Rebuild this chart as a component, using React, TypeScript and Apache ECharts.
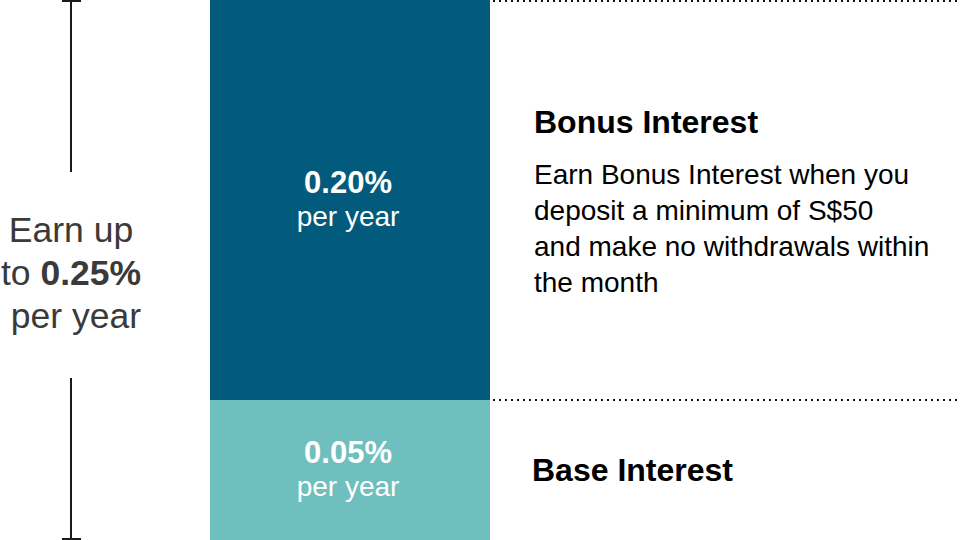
import React, { useEffect, useRef } from "react";
import * as echarts from "echarts";

// ---- data ----
const categories = ["Account"];
const segmentNames = ["Base Interest", "Bonus Interest"];
const segmentRates = [0.05, 0.2]; // % per year
const segmentColors = ["#6ebfbe", "#025b7c"];
const totalRate = 0.25;
const bonusDescription = [
  "Earn Bonus Interest when you",
  "deposit a minimum of S$50",
  "and make no withdrawals within",
  "the month",
];

const FONT = "'Liberation Sans', Arial, Helvetica, sans-serif";

export default function App() {
  const ref = useRef<HTMLDivElement>(null);

  useEffect(() => {
    if (!ref.current) return;
    const chart = echarts.init(ref.current, undefined, { renderer: "svg" });

    // cumulative stack
    let acc = 0;
    const stackData = segmentRates.map((v, i) => {
      const start = acc;
      acc += v;
      return [0, start, acc, i];
    });

    const renderItem = (params: any, api: any) => {
      const i = api.value(3);
      const start = api.value(1);
      const end = api.value(2);
      const cs = params.coordSys;
      const bandW = api.size([1, 0])[0];
      const cx = api.coord([api.value(0), end])[0];
      const yTop = api.coord([0, end])[1];
      const yBottom = i === 0 ? cs.y + cs.height : api.coord([0, start])[1];
      const x0 = cx - bandW / 2;
      const x1 = cx + bandW / 2;
      const midY = (yTop + yBottom) / 2;
      const rate = segmentRates[i];
      const lineY = i === segmentRates.length - 1 ? yTop + 1 : yTop;
      return {
        type: "group",
        children: [
          {
            type: "rect",
            shape: { x: x0, y: yTop, width: x1 - x0, height: yBottom - yTop },
            style: { fill: segmentColors[i] },
          },
          {
            type: "text",
            style: {
              x: cx - 2,
              y: midY,
              text: `{a|${rate.toFixed(2)}%}\n{b|per year}`,
              align: "center",
              verticalAlign: "middle",
              fill: "#ffffff",
              fontFamily: FONT,
              rich: {
                a: { fontSize: 31, fontWeight: "bold", lineHeight: 32, fill: "#ffffff", fontFamily: FONT },
                b: { fontSize: 28, lineHeight: 36, fill: "#ffffff", fontFamily: FONT },
              },
            },
          },
          {
            type: "line",
            shape: { x1: x1 + 3, y1: lineY, x2: api.getWidth(), y2: lineY },
            style: { stroke: "#111111", lineWidth: 2, lineDash: [2, 4] },
          },
        ],
      };
    };

    const option: any = {
      animation: false,
      backgroundColor: "#ffffff",
      grid: { left: 210, width: 280, top: 0, height: 540 },
      xAxis: {
        type: "category",
        data: categories,
        show: false,
      },
      yAxis: {
        type: "value",
        min: -0.02,
        max: totalRate,
        show: false,
      },
      series: [
        {
          type: "custom",
          name: segmentNames.join(" / "),
          clip: false,
          renderItem,
          data: stackData,
        },
      ],
      graphic: [
        // bracket
        { type: "rect", shape: { x: 62, y: 0, width: 19, height: 2 }, style: { fill: "#1a1a1a" } },
        { type: "rect", shape: { x: 70, y: 0, width: 2, height: 172 }, style: { fill: "#1a1a1a" } },
        { type: "rect", shape: { x: 70, y: 378, width: 2, height: 162 }, style: { fill: "#1a1a1a" } },
        { type: "rect", shape: { x: 62, y: 538, width: 19, height: 2 }, style: { fill: "#1a1a1a" } },
        {
          type: "text",
          x: 71,
          y: 273,
          style: {
            text: `Earn up\nto {b|${totalRate.toFixed(2)}%}\n per year`,
            align: "center",
            verticalAlign: "middle",
            fill: "#3a3a3a",
            fontSize: 35.5,
            lineHeight: 43,
            fontFamily: FONT,
            rich: {
              b: { fontSize: 35.5, fontWeight: "bold", lineHeight: 43, fill: "#3a3a3a", fontFamily: FONT },
            },
          },
        },
        {
          type: "text",
          x: 534,
          y: 122,
          style: {
            text: segmentNames[1],
            align: "left",
            verticalAlign: "middle",
            fill: "#000000",
            fontSize: 32,
            fontWeight: "bold",
            fontFamily: FONT,
          },
        },
        {
          type: "text",
          x: 534,
          y: 228,
          style: {
            text: bonusDescription.join("\n"),
            align: "left",
            verticalAlign: "middle",
            fill: "#000000",
            fontSize: 28,
            lineHeight: 36,
            fontFamily: FONT,
          },
        },
        {
          type: "text",
          x: 532,
          y: 470,
          style: {
            text: segmentNames[0],
            align: "left",
            verticalAlign: "middle",
            fill: "#000000",
            fontSize: 32,
            fontWeight: "bold",
            fontFamily: FONT,
          },
        },
      ],
    };

    chart.setOption(option);
    return () => chart.dispose();
  }, []);

  return (
    <div
      ref={ref}
      style={{ position: "fixed", left: 0, top: 0, width: 960, height: 540, background: "#fff" }}
    />
  );
}
